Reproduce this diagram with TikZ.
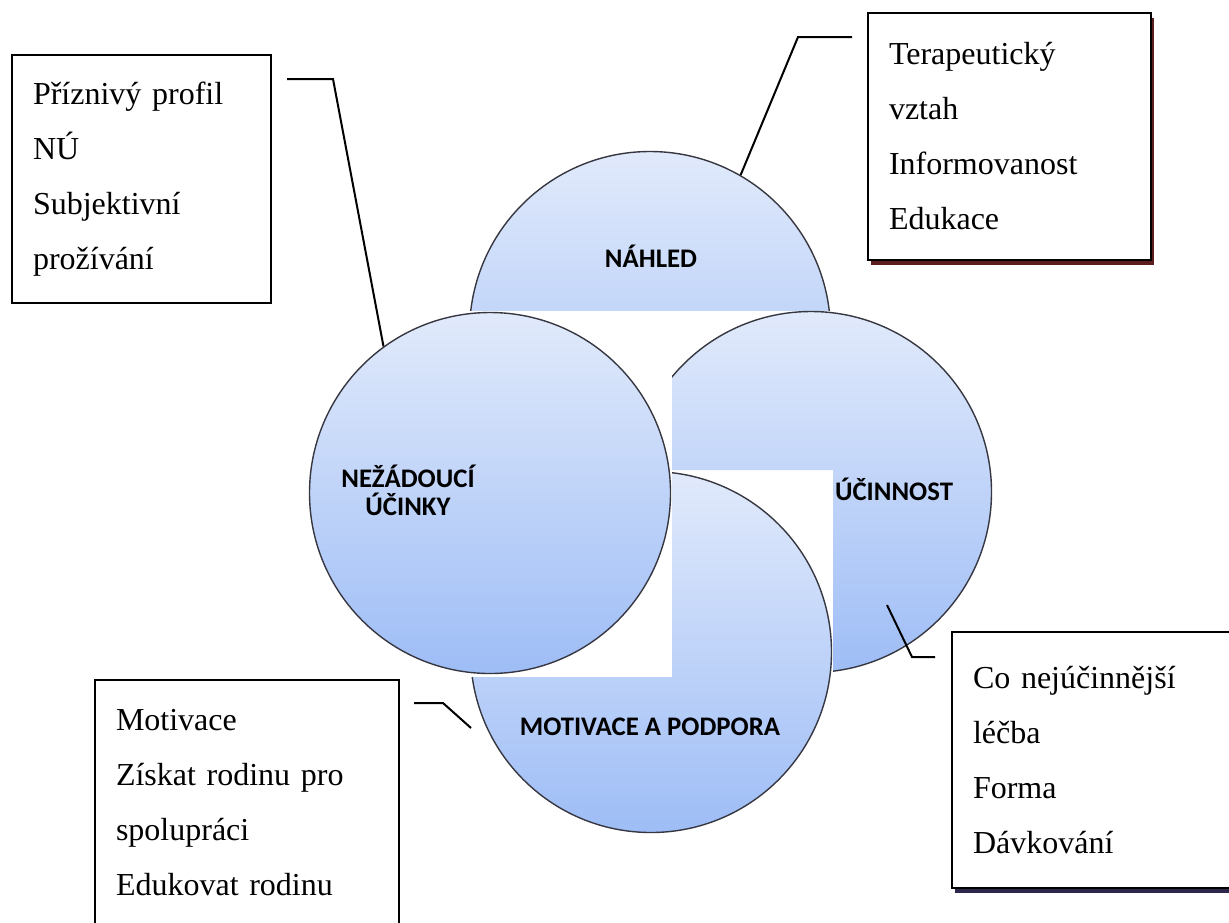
\documentclass[tikz,border=0pt]{standalone}
\usepackage{fontspec}
\setmainfont{Liberation Serif}
\newfontfamily\bubblefont{Carlito}
\usetikzlibrary{shadows}

\definecolor{bubbletop}{RGB}{225,234,251}
\definecolor{bubblebot}{RGB}{158,189,246}
\definecolor{bubbleedge}{RGB}{55,55,65}
\definecolor{shadowred}{RGB}{90,30,30}
\definecolor{shadowblue}{RGB}{45,40,75}

\tikzset{bubble/.style={draw=bubbleedge,line width=0.7pt,circle,minimum size=180.5pt,inner sep=0pt,top color=bubbletop,bottom color=bubblebot}}
\tikzset{bubble label/.style={font=\bubblefont\bfseries\fontsize{13.4}{14}\selectfont,align=center}}
\tikzset{note box/.style={draw,line width=1pt,fill=white,rectangle,align=left,inner xsep=10.5pt,font=\fontsize{16}{27.5}\selectfont,text width=#1}}
\tikzset{red shadow/.style={general shadow={fill=shadowred,shadow xshift=1.5pt,shadow yshift=-2.5pt}}}
\tikzset{blue shadow/.style={general shadow={fill=shadowblue,shadow xshift=1.5pt,shadow yshift=-2.5pt}}}
\tikzset{callout/.style={line width=1pt}}

\begin{document}
\begin{tikzpicture}[x=0.5pt,y=-0.5pt]
  \useasboundingbox (0,0) rectangle (1229,922);

  \begin{scope}
    \clip (400,100) rectangle (900,310);
    \node [bubble] (nahled) at (650,332) {};
  \end{scope}
  \node [bubble] (ucinky) at (490,493) {};
  \begin{scope}
    \clip (672,300) -- (1000,300) -- (1000,700) -- (833,700) -- (833,470) -- (672,470) -- cycle;
    \node [bubble] (ucinnost) at (811,492) {};
  \end{scope}
  \begin{scope}
    \clip (672,460) -- (850,460) -- (850,850) -- (450,850) -- (450,677) -- (672,677) -- cycle;
    \node [bubble] (podpora) at (651,652) {};
  \end{scope}

  \node [bubble label, anchor=base] (nahled-t)   at (651,267) {NÁHLED};
  \node [bubble label]              (ucinky-t)   at (408,490) {NEŽÁDOUCÍ\\ÚČINKY};
  \node [bubble label, anchor=base] (ucinnost-t) at (894,500) {ÚČINNOST};
  \node [bubble label, anchor=base] (podpora-t)  at (650,735) {MOTIVACE A PODPORA};

  \node [note box=108.5pt, minimum width=129.5pt, minimum height=124pt]               (profil) at (141.5,179)   {Příznivý profil\\NÚ\\Subjektivní\\prožívání};
  \node [note box=120.5pt, minimum width=141.5pt, minimum height=123.5pt, red shadow]  (vztah)  at (1009.5,136.5) {Terapeutický\\vztah\\Informovanost\\Edukace};
  \node [note box=131pt,   minimum width=152pt,   minimum height=122.5pt]             (rodina) at (247,802.5)   {Motivace\\Získat rodinu pro\\spolupráci\\Edukovat rodinu};
  \node [note box=128pt,   minimum width=149pt,   minimum height=128pt, blue shadow]   (lecba)  at (1101,760)    {Co nejúčinnější\\léčba\\Forma\\Dávkování};

  \coordinate (profil-c)   at (287,79);
  \coordinate (vztah-c)    at (852,37);
  \coordinate (rodina-c)   at (414,703);
  \coordinate (podpora-c)  at (471,728);
  \coordinate (lecba-c)    at (935,657);
  \coordinate (ucinnost-c) at (887,605);

  \draw [callout] (profil-c) -- ++(46,0)  -- (ucinky.126);
  \draw [callout] (vztah-c)  -- ++(-54,0) -- (nahled.60);
  \draw [callout] (rodina-c) -- ++(29,0)  -- (podpora-c);
  \draw [callout] (lecba-c)  -- ++(-23,0) -- (ucinnost-c);

\end{tikzpicture}
\end{document}
